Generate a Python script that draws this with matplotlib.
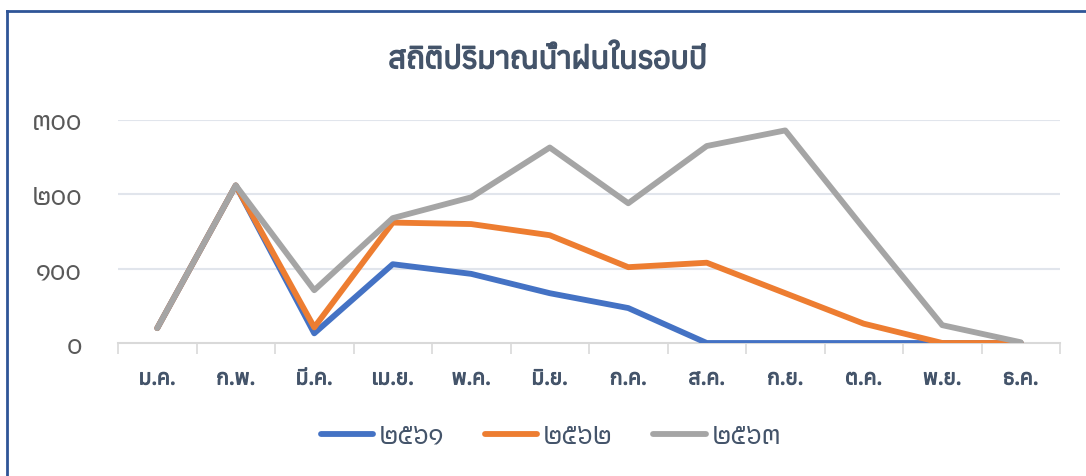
import matplotlib
matplotlib.use('Agg')
import matplotlib.pyplot as plt
from matplotlib import font_manager
from matplotlib import patheffects
from matplotlib.ft2font import FT2Font
from matplotlib.lines import Line2D

months = ['ม.ค.', 'ก.พ.', 'มี.ค.', 'เม.ย.', 'พ.ค.', 'มิ.ย.',
          'ก.ค.', 'ส.ค.', 'ก.ย.', 'ต.ค.', 'พ.ย.', 'ธ.ค.']
rain_2561 = [20, 212, 13, 106, 93, 67, 47, 0, 0, 0, 0, 0]
rain_2562 = [20, 212, 21, 162, 160, 145, 102, 108, 67, 26, 0, 0]
rain_2563 = [20, 212, 71, 168, 196, 263, 188, 265, 286, 154, 24, 1]
series_names = ['๒๕๖๑', '๒๕๖๒', '๒๕๖๓']
y_ticks = [0, 100, 200, 300]
y_tick_labels = ['๐', '๑๐๐', '๒๐๐', '๓๐๐']
title = 'สถิติปริมาณน้ำฝนในรอบปี'

# หาฟอนต์ที่มีอักษรไทย
thai_fonts = []
for path in font_manager.findSystemFonts():
    try:
        f = FT2Font(path)
        cmap = f.get_charmap()
        if 0x0E2A in cmap and 0x0E51 in cmap:
            thai_fonts.append(font_manager.FontProperties(fname=path).get_name())
    except Exception:
        pass
thai_fonts = sorted(set(thai_fonts))
families = thai_fonts[:1] + ['DejaVu Sans']
plt.rcParams['font.family'] = families

text_col = '#44546A'
colors = ['#4472C4', '#ED7D31', '#A5A5A5']
# ตัวหนาเทียม (ฟอนต์ไม่มีแบบหนา)
title_fx = [patheffects.withStroke(linewidth=1.1, foreground=text_col)]
label_fx = [patheffects.withStroke(linewidth=0.8, foreground=text_col)]

fig = plt.figure(figsize=(10.86, 4.76), dpi=100)
ax = fig.add_axes([118 / 1086, 1 - 343 / 476, 942 / 1086, 223 / 476])

x = range(len(months))
for vals, name, c in zip([rain_2561, rain_2562, rain_2563], series_names, colors):
    ax.plot(x, vals, color=c, lw=4.2, solid_capstyle='round',
            solid_joinstyle='round', label=name)

ax.set_xlim(-0.5, 11.5)
ax.set_ylim(0, 300)
ax.set_yticks(y_ticks)
ax.set_yticklabels(y_tick_labels, color='#595959', fontsize=20)
ax.set_xticks(x)
ax.set_xticklabels(months, color=text_col, fontsize=15)
for lbl in ax.get_xticklabels():
    lbl.set_path_effects(label_fx)
ax.set_xticks([i - 0.5 for i in range(13)], minor=True)
ax.tick_params(axis='y', length=0, pad=26)
ax.tick_params(axis='x', which='major', length=0, pad=19)
ax.tick_params(axis='x', which='minor', length=8, color='#D9D9D9', width=1.2)
for yv in y_ticks[1:]:
    ax.axhline(yv, color='#E1E5EC', lw=1.5, zorder=0)
for s in ['top', 'right', 'left']:
    ax.spines[s].set_visible(False)
ax.spines['bottom'].set_color('#D9D9D9')
ax.spines['bottom'].set_linewidth(1.5)
ax.spines['bottom'].set_zorder(0)

fig.text(548 / 1086, 1 - 60 / 476, title, ha='center', va='center',
         fontsize=22, color=text_col, path_effects=title_fx)

fig.legend(loc='center', bbox_to_anchor=(551 / 1086, 1 - 436 / 476), ncol=3,
           frameon=False, fontsize=20, labelcolor=text_col, handlelength=1.9,
           handletextpad=0.2, columnspacing=1.45)

# กรอบ
fig.add_artist(Line2D([7 / 1086, 1], [1 - 11 / 476, 1 - 11 / 476],
                      color='#2F5597', lw=2))
fig.add_artist(Line2D([7 / 1086, 7 / 1086], [0, 1 - 11 / 476],
                      color='#2F5597', lw=2))

fig.savefig('out.png', dpi=100)
